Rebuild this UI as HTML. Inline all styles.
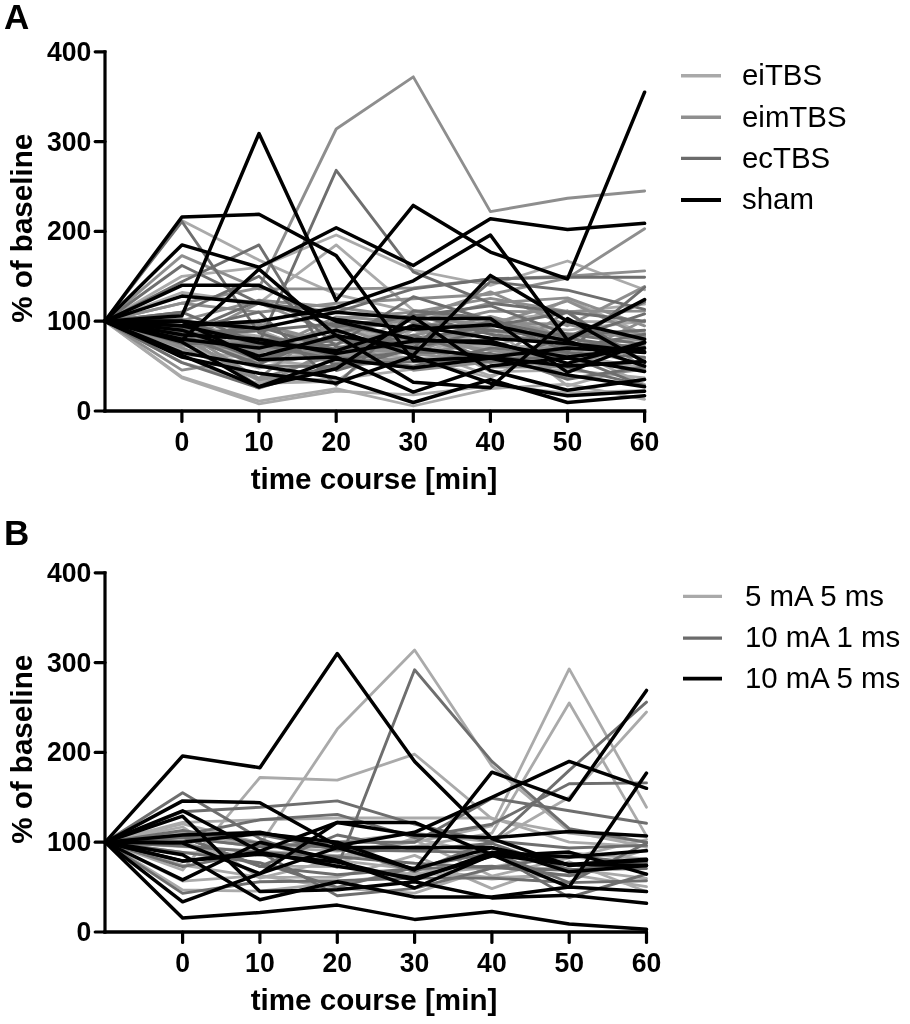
<!DOCTYPE html>
<html><head><meta charset="utf-8"><style>
html,body{margin:0;padding:0;background:#fff;}
svg{display:block;will-change:transform;}
text{font-family:"Liberation Sans", sans-serif;}
.tk{font-size:28px;font-weight:bold;}
.ax{font-size:29.6px;font-weight:bold;}
.pl{font-size:35px;font-weight:bold;}
.lg{font-size:29.4px;}
</style></head><body>
<svg width="910" height="1024" viewBox="0 0 910 1024">
<polyline points="104.8,321.2 181.9,318.6 259.0,357.6 336.2,324.4 413.3,342.8 490.4,339.3 567.5,299.1 644.6,334.6" fill="none" stroke="#aaaaaa" stroke-width="2.8" stroke-linejoin="round" stroke-linecap="round"/>
<polyline points="104.8,321.2 181.9,331.7 259.0,330.8 336.2,358.4 413.3,348.1 490.4,375.8 567.5,348.3 644.6,384.5" fill="none" stroke="#aaaaaa" stroke-width="2.8" stroke-linejoin="round" stroke-linecap="round"/>
<polyline points="104.8,321.2 181.9,362.5 259.0,383.4 336.2,381.3 413.3,329.5 490.4,371.7 567.5,370.1 644.6,377.9" fill="none" stroke="#aaaaaa" stroke-width="2.8" stroke-linejoin="round" stroke-linecap="round"/>
<polyline points="104.8,321.2 181.9,318.9 259.0,345.2 336.2,352.5 413.3,350.4 490.4,346.2 567.5,347.6 644.6,363.9" fill="none" stroke="#aaaaaa" stroke-width="2.8" stroke-linejoin="round" stroke-linecap="round"/>
<polyline points="104.8,321.2 181.9,333.9 259.0,353.0 336.2,327.6 413.3,344.0 490.4,344.8 567.5,351.2 644.6,337.6" fill="none" stroke="#aaaaaa" stroke-width="2.8" stroke-linejoin="round" stroke-linecap="round"/>
<polyline points="104.8,321.2 181.9,349.7 259.0,359.8 336.2,367.4 413.3,359.0 490.4,377.5 567.5,341.9 644.6,349.9" fill="none" stroke="#aaaaaa" stroke-width="2.8" stroke-linejoin="round" stroke-linecap="round"/>
<polyline points="104.8,321.2 181.9,328.4 259.0,341.9 336.2,358.1 413.3,335.0 490.4,320.2 567.5,344.0 644.6,351.9" fill="none" stroke="#aaaaaa" stroke-width="2.8" stroke-linejoin="round" stroke-linecap="round"/>
<polyline points="104.8,321.2 181.9,322.5 259.0,329.8 336.2,361.6 413.3,328.2 490.4,347.6 567.5,321.5 644.6,322.1" fill="none" stroke="#aaaaaa" stroke-width="2.8" stroke-linejoin="round" stroke-linecap="round"/>
<polyline points="104.8,321.2 181.9,356.1 259.0,354.3 336.2,361.3 413.3,344.2 490.4,319.2 567.5,337.1 644.6,332.5" fill="none" stroke="#aaaaaa" stroke-width="2.8" stroke-linejoin="round" stroke-linecap="round"/>
<polyline points="104.8,321.2 181.9,337.2 259.0,381.0 336.2,379.2 413.3,369.2 490.4,326.5 567.5,385.8 644.6,364.7" fill="none" stroke="#aaaaaa" stroke-width="2.8" stroke-linejoin="round" stroke-linecap="round"/>
<polyline points="104.8,321.2 181.9,336.4 259.0,355.5 336.2,356.7 413.3,344.2 490.4,346.7 567.5,346.8 644.6,348.9" fill="none" stroke="#aaaaaa" stroke-width="2.8" stroke-linejoin="round" stroke-linecap="round"/>
<polyline points="104.8,321.2 181.9,344.9 259.0,342.8 336.2,356.8 413.3,359.5 490.4,356.0 567.5,354.5 644.6,367.9" fill="none" stroke="#aaaaaa" stroke-width="2.8" stroke-linejoin="round" stroke-linecap="round"/>
<polyline points="104.8,321.2 181.9,344.6 259.0,368.1 336.2,349.3 413.3,358.5 490.4,354.8 567.5,355.4 644.6,370.6" fill="none" stroke="#aaaaaa" stroke-width="2.8" stroke-linejoin="round" stroke-linecap="round"/>
<polyline points="104.8,321.2 181.9,325.0 259.0,336.2 336.2,349.7 413.3,316.3 490.4,351.0 567.5,352.4 644.6,337.2" fill="none" stroke="#aaaaaa" stroke-width="2.8" stroke-linejoin="round" stroke-linecap="round"/>
<polyline points="104.8,321.2 181.9,331.6 259.0,362.8 336.2,323.3 413.3,355.6 490.4,329.5 567.5,349.5 644.6,343.6" fill="none" stroke="#aaaaaa" stroke-width="2.8" stroke-linejoin="round" stroke-linecap="round"/>
<polyline points="104.8,321.2 181.9,220.6 259.0,260.1 336.2,294.3 413.3,312.2 490.4,321.2 567.5,330.2 644.6,321.2" fill="none" stroke="#aaaaaa" stroke-width="2.8" stroke-linejoin="round" stroke-linecap="round"/>
<polyline points="104.8,321.2 181.9,276.3 259.0,267.3 336.2,235.0 413.3,270.0 490.4,285.3 567.5,261.0 644.6,289.8" fill="none" stroke="#aaaaaa" stroke-width="2.8" stroke-linejoin="round" stroke-linecap="round"/>
<polyline points="104.8,321.2 181.9,292.5 259.0,303.2 336.2,244.9 413.3,310.4 490.4,321.2 567.5,312.2 644.6,304.1" fill="none" stroke="#aaaaaa" stroke-width="2.8" stroke-linejoin="round" stroke-linecap="round"/>
<polyline points="104.8,321.2 181.9,376.9 259.0,401.1 336.2,388.6 413.3,406.0 490.4,388.6 567.5,384.1 644.6,399.3" fill="none" stroke="#aaaaaa" stroke-width="2.8" stroke-linejoin="round" stroke-linecap="round"/>
<polyline points="104.8,321.2 181.9,377.8 259.0,403.8 336.2,391.2 413.3,394.8 490.4,385.9 567.5,393.0 644.6,390.3" fill="none" stroke="#aaaaaa" stroke-width="2.8" stroke-linejoin="round" stroke-linecap="round"/>
<polyline points="104.8,321.2 181.9,325.8 259.0,323.9 336.2,343.8 413.3,328.4 490.4,355.1 567.5,345.1 644.6,348.6" fill="none" stroke="#8e8e8e" stroke-width="2.9" stroke-linejoin="round" stroke-linecap="round"/>
<polyline points="104.8,321.2 181.9,333.3 259.0,386.6 336.2,347.3 413.3,353.4 490.4,362.3 567.5,349.1 644.6,350.0" fill="none" stroke="#8e8e8e" stroke-width="2.9" stroke-linejoin="round" stroke-linecap="round"/>
<polyline points="104.8,321.2 181.9,342.3 259.0,302.9 336.2,333.9 413.3,318.1 490.4,324.5 567.5,300.9 644.6,337.1" fill="none" stroke="#8e8e8e" stroke-width="2.9" stroke-linejoin="round" stroke-linecap="round"/>
<polyline points="104.8,321.2 181.9,338.0 259.0,378.3 336.2,318.3 413.3,312.1 490.4,298.4 567.5,311.4 644.6,311.1" fill="none" stroke="#8e8e8e" stroke-width="2.9" stroke-linejoin="round" stroke-linecap="round"/>
<polyline points="104.8,321.2 181.9,329.2 259.0,353.4 336.2,316.9 413.3,321.8 490.4,303.1 567.5,297.9 644.6,325.8" fill="none" stroke="#8e8e8e" stroke-width="2.9" stroke-linejoin="round" stroke-linecap="round"/>
<polyline points="104.8,321.2 181.9,370.1 259.0,357.8 336.2,338.6 413.3,370.2 490.4,361.7 567.5,365.2 644.6,343.4" fill="none" stroke="#8e8e8e" stroke-width="2.9" stroke-linejoin="round" stroke-linecap="round"/>
<polyline points="104.8,321.2 181.9,327.8 259.0,338.6 336.2,363.9 413.3,337.6 490.4,350.6 567.5,357.7 644.6,320.2" fill="none" stroke="#8e8e8e" stroke-width="2.9" stroke-linejoin="round" stroke-linecap="round"/>
<polyline points="104.8,321.2 181.9,340.7 259.0,350.1 336.2,325.2 413.3,353.4 490.4,322.8 567.5,324.3 644.6,341.5" fill="none" stroke="#8e8e8e" stroke-width="2.9" stroke-linejoin="round" stroke-linecap="round"/>
<polyline points="104.8,321.2 181.9,344.8 259.0,349.8 336.2,356.6 413.3,324.8 490.4,362.7 567.5,310.8 644.6,369.4" fill="none" stroke="#8e8e8e" stroke-width="2.9" stroke-linejoin="round" stroke-linecap="round"/>
<polyline points="104.8,321.2 181.9,331.1 259.0,378.9 336.2,354.7 413.3,328.6 490.4,311.1 567.5,312.2 644.6,362.3" fill="none" stroke="#8e8e8e" stroke-width="2.9" stroke-linejoin="round" stroke-linecap="round"/>
<polyline points="104.8,321.2 181.9,320.6 259.0,300.2 336.2,307.2 413.3,317.7 490.4,291.9 567.5,325.8 644.6,286.6" fill="none" stroke="#8e8e8e" stroke-width="2.9" stroke-linejoin="round" stroke-linecap="round"/>
<polyline points="104.8,321.2 181.9,320.0 259.0,350.3 336.2,353.5 413.3,335.7 490.4,316.4 567.5,336.9 644.6,358.7" fill="none" stroke="#8e8e8e" stroke-width="2.9" stroke-linejoin="round" stroke-linecap="round"/>
<polyline points="104.8,321.2 181.9,342.8 259.0,341.1 336.2,358.4 413.3,339.5 490.4,331.4 567.5,333.8 644.6,335.6" fill="none" stroke="#8e8e8e" stroke-width="2.9" stroke-linejoin="round" stroke-linecap="round"/>
<polyline points="104.8,321.2 181.9,344.9 259.0,320.0 336.2,354.0 413.3,346.2 490.4,367.0 567.5,367.0 644.6,360.6" fill="none" stroke="#8e8e8e" stroke-width="2.9" stroke-linejoin="round" stroke-linecap="round"/>
<polyline points="104.8,321.2 181.9,347.6 259.0,379.8 336.2,367.9 413.3,356.3 490.4,340.2 567.5,378.1 644.6,369.3" fill="none" stroke="#8e8e8e" stroke-width="2.9" stroke-linejoin="round" stroke-linecap="round"/>
<polyline points="104.8,321.2 181.9,303.2 259.0,288.0 336.2,129.0 413.3,76.9 490.4,211.6 567.5,198.2 644.6,191.0" fill="none" stroke="#8e8e8e" stroke-width="2.9" stroke-linejoin="round" stroke-linecap="round"/>
<polyline points="104.8,321.2 181.9,303.2 259.0,312.2 336.2,303.2 413.3,298.8 490.4,294.3 567.5,278.1 644.6,228.7" fill="none" stroke="#8e8e8e" stroke-width="2.9" stroke-linejoin="round" stroke-linecap="round"/>
<polyline points="104.8,321.2 181.9,255.6 259.0,288.9 336.2,288.9 413.3,288.0 490.4,279.0 567.5,276.3 644.6,270.9" fill="none" stroke="#8e8e8e" stroke-width="2.9" stroke-linejoin="round" stroke-linecap="round"/>
<polyline points="104.8,321.2 181.9,362.6 259.0,388.0 336.2,364.1 413.3,361.9 490.4,361.2 567.5,355.4 644.6,386.1" fill="none" stroke="#6e6e6e" stroke-width="2.9" stroke-linejoin="round" stroke-linecap="round"/>
<polyline points="104.8,321.2 181.9,327.4 259.0,339.4 336.2,339.7 413.3,343.1 490.4,321.2 567.5,337.4 644.6,301.9" fill="none" stroke="#6e6e6e" stroke-width="2.9" stroke-linejoin="round" stroke-linecap="round"/>
<polyline points="104.8,321.2 181.9,330.4 259.0,312.0 336.2,385.2 413.3,310.7 490.4,318.3 567.5,347.9 644.6,334.2" fill="none" stroke="#6e6e6e" stroke-width="2.9" stroke-linejoin="round" stroke-linecap="round"/>
<polyline points="104.8,321.2 181.9,319.8 259.0,346.2 336.2,344.9 413.3,296.7 490.4,320.5 567.5,351.6 644.6,287.4" fill="none" stroke="#6e6e6e" stroke-width="2.9" stroke-linejoin="round" stroke-linecap="round"/>
<polyline points="104.8,321.2 181.9,335.5 259.0,364.2 336.2,333.1 413.3,314.7 490.4,334.3 567.5,344.1 644.6,346.6" fill="none" stroke="#6e6e6e" stroke-width="2.9" stroke-linejoin="round" stroke-linecap="round"/>
<polyline points="104.8,321.2 181.9,330.3 259.0,359.8 336.2,338.7 413.3,351.9 490.4,353.4 567.5,379.4 644.6,366.8" fill="none" stroke="#6e6e6e" stroke-width="2.9" stroke-linejoin="round" stroke-linecap="round"/>
<polyline points="104.8,321.2 181.9,335.0 259.0,330.8 336.2,323.5 413.3,339.6 490.4,326.0 567.5,312.5 644.6,362.8" fill="none" stroke="#6e6e6e" stroke-width="2.9" stroke-linejoin="round" stroke-linecap="round"/>
<polyline points="104.8,321.2 181.9,312.3 259.0,276.3 336.2,346.6 413.3,347.8 490.4,281.7 567.5,290.2 644.6,309.3" fill="none" stroke="#6e6e6e" stroke-width="2.9" stroke-linejoin="round" stroke-linecap="round"/>
<polyline points="104.8,321.2 181.9,333.5 259.0,300.6 336.2,326.7 413.3,316.0 490.4,305.7 567.5,334.3 644.6,344.1" fill="none" stroke="#6e6e6e" stroke-width="2.9" stroke-linejoin="round" stroke-linecap="round"/>
<polyline points="104.8,321.2 181.9,334.6 259.0,365.8 336.2,366.9 413.3,323.7 490.4,330.0 567.5,339.3 644.6,313.9" fill="none" stroke="#6e6e6e" stroke-width="2.9" stroke-linejoin="round" stroke-linecap="round"/>
<polyline points="104.8,321.2 181.9,336.0 259.0,326.6 336.2,350.0 413.3,335.2 490.4,358.7 567.5,338.3 644.6,349.0" fill="none" stroke="#6e6e6e" stroke-width="2.9" stroke-linejoin="round" stroke-linecap="round"/>
<polyline points="104.8,321.2 181.9,343.3 259.0,344.5 336.2,359.5 413.3,351.6 490.4,354.5 567.5,367.2 644.6,385.6" fill="none" stroke="#6e6e6e" stroke-width="2.9" stroke-linejoin="round" stroke-linecap="round"/>
<polyline points="104.8,321.2 181.9,312.2 259.0,343.6 336.2,170.3 413.3,271.8 490.4,303.2 567.5,312.2 644.6,321.2" fill="none" stroke="#6e6e6e" stroke-width="2.9" stroke-linejoin="round" stroke-linecap="round"/>
<polyline points="104.8,321.2 181.9,221.5 259.0,332.9 336.2,357.1 413.3,366.1 490.4,348.1 567.5,352.6 644.6,357.1" fill="none" stroke="#6e6e6e" stroke-width="2.9" stroke-linejoin="round" stroke-linecap="round"/>
<polyline points="104.8,321.2 181.9,281.7 259.0,244.9 336.2,370.6 413.3,348.1 490.4,330.2 567.5,334.7 644.6,330.2" fill="none" stroke="#6e6e6e" stroke-width="2.9" stroke-linejoin="round" stroke-linecap="round"/>
<polyline points="104.8,321.2 181.9,265.5 259.0,303.2 336.2,312.2 413.3,288.9 490.4,279.0 567.5,277.2 644.6,277.2" fill="none" stroke="#6e6e6e" stroke-width="2.9" stroke-linejoin="round" stroke-linecap="round"/>
<polyline points="104.8,321.2 181.9,296.1 259.0,303.2 336.2,319.4 413.3,329.3 490.4,324.8 567.5,341.0 644.6,366.1" fill="none" stroke="#000000" stroke-width="3.5" stroke-linejoin="round" stroke-linecap="round"/>
<polyline points="104.8,321.2 181.9,321.2 259.0,328.4 336.2,312.2 413.3,318.5 490.4,318.5 567.5,372.4 644.6,342.3" fill="none" stroke="#000000" stroke-width="3.5" stroke-linejoin="round" stroke-linecap="round"/>
<polyline points="104.8,321.2 181.9,325.7 259.0,342.8 336.2,350.8 413.3,325.7 490.4,338.3 567.5,343.6 644.6,351.7" fill="none" stroke="#000000" stroke-width="3.5" stroke-linejoin="round" stroke-linecap="round"/>
<polyline points="104.8,321.2 181.9,334.7 259.0,339.2 336.2,353.5 413.3,341.0 490.4,341.0 567.5,363.4 644.6,342.3" fill="none" stroke="#000000" stroke-width="3.5" stroke-linejoin="round" stroke-linecap="round"/>
<polyline points="104.8,321.2 181.9,330.2 259.0,356.2 336.2,335.6 413.3,382.3 490.4,387.7 567.5,318.5 644.6,362.1" fill="none" stroke="#000000" stroke-width="3.5" stroke-linejoin="round" stroke-linecap="round"/>
<polyline points="104.8,321.2 181.9,321.2 259.0,359.8 336.2,357.1 413.3,392.1 490.4,366.1 567.5,358.0 644.6,371.5" fill="none" stroke="#000000" stroke-width="3.5" stroke-linejoin="round" stroke-linecap="round"/>
<polyline points="104.8,321.2 181.9,341.9 259.0,386.8 336.2,358.9 413.3,367.9 490.4,358.0 567.5,375.1 644.6,386.8" fill="none" stroke="#000000" stroke-width="3.5" stroke-linejoin="round" stroke-linecap="round"/>
<polyline points="104.8,321.2 181.9,355.3 259.0,386.8 336.2,368.8 413.3,316.7 490.4,370.6 567.5,390.3 644.6,379.6" fill="none" stroke="#000000" stroke-width="3.5" stroke-linejoin="round" stroke-linecap="round"/>
<polyline points="104.8,321.2 181.9,357.1 259.0,373.3 336.2,383.2 413.3,356.2 490.4,383.2 567.5,395.7 644.6,391.2" fill="none" stroke="#000000" stroke-width="3.5" stroke-linejoin="round" stroke-linecap="round"/>
<polyline points="104.8,321.2 181.9,352.6 259.0,366.1 336.2,377.8 413.3,402.5 490.4,379.6 567.5,402.5 644.6,395.7" fill="none" stroke="#000000" stroke-width="3.5" stroke-linejoin="round" stroke-linecap="round"/>
<polyline points="104.8,321.2 181.9,315.8 259.0,133.5 336.2,300.5 413.3,205.4 490.4,252.1 567.5,279.0 644.6,92.2" fill="none" stroke="#000000" stroke-width="3.5" stroke-linejoin="round" stroke-linecap="round"/>
<polyline points="104.8,321.2 181.9,217.0 259.0,214.3 336.2,255.6 413.3,360.7 490.4,357.1 567.5,366.1 644.6,361.6" fill="none" stroke="#000000" stroke-width="3.5" stroke-linejoin="round" stroke-linecap="round"/>
<polyline points="104.8,321.2 181.9,244.9 259.0,267.3 336.2,227.8 413.3,265.5 490.4,218.8 567.5,229.6 644.6,223.3" fill="none" stroke="#000000" stroke-width="3.5" stroke-linejoin="round" stroke-linecap="round"/>
<polyline points="104.8,321.2 181.9,325.7 259.0,321.2 336.2,307.7 413.3,280.8 490.4,235.0 567.5,340.1 644.6,299.6" fill="none" stroke="#000000" stroke-width="3.5" stroke-linejoin="round" stroke-linecap="round"/>
<polyline points="104.8,321.2 181.9,340.1 259.0,269.1 336.2,335.6 413.3,348.1 490.4,357.1 567.5,348.1 644.6,352.6" fill="none" stroke="#000000" stroke-width="3.5" stroke-linejoin="round" stroke-linecap="round"/>
<polyline points="104.8,321.2 181.9,285.3 259.0,285.3 336.2,321.2 413.3,339.2 490.4,343.6 567.5,357.1 644.6,348.1" fill="none" stroke="#000000" stroke-width="3.5" stroke-linejoin="round" stroke-linecap="round"/>
<polyline points="104.8,321.2 181.9,339.2 259.0,348.1 336.2,330.2 413.3,355.3 490.4,275.4 567.5,321.2 644.6,339.2" fill="none" stroke="#000000" stroke-width="3.5" stroke-linejoin="round" stroke-linecap="round"/>
<polyline points="105.3,842.2 182.6,841.6 259.9,866.2 337.3,866.7 414.6,874.7 491.9,867.2 569.2,852.8 646.5,859.0" fill="none" stroke="#aaaaaa" stroke-width="2.8" stroke-linejoin="round" stroke-linecap="round"/>
<polyline points="105.3,842.2 182.6,890.0 259.9,891.2 337.3,882.6 414.6,872.6 491.9,879.0 569.2,874.3 646.5,886.7" fill="none" stroke="#aaaaaa" stroke-width="2.8" stroke-linejoin="round" stroke-linecap="round"/>
<polyline points="105.3,842.2 182.6,852.5 259.9,854.8 337.3,860.3 414.6,869.3 491.9,877.7 569.2,874.7 646.5,849.5" fill="none" stroke="#aaaaaa" stroke-width="2.8" stroke-linejoin="round" stroke-linecap="round"/>
<polyline points="105.3,842.2 182.6,823.9 259.9,842.9 337.3,863.0 414.6,838.2 491.9,855.9 569.2,856.5 646.5,864.3" fill="none" stroke="#aaaaaa" stroke-width="2.8" stroke-linejoin="round" stroke-linecap="round"/>
<polyline points="105.3,842.2 182.6,881.1 259.9,875.5 337.3,888.1 414.6,893.1 491.9,867.7 569.2,868.8 646.5,878.3" fill="none" stroke="#aaaaaa" stroke-width="2.8" stroke-linejoin="round" stroke-linecap="round"/>
<polyline points="105.3,842.2 182.6,827.0 259.9,878.2 337.3,859.1 414.6,840.0 491.9,876.1 569.2,857.8 646.5,839.5" fill="none" stroke="#aaaaaa" stroke-width="2.8" stroke-linejoin="round" stroke-linecap="round"/>
<polyline points="105.3,842.2 182.6,865.2 259.9,877.2 337.3,877.4 414.6,855.4 491.9,888.6 569.2,861.7 646.5,891.7" fill="none" stroke="#aaaaaa" stroke-width="2.8" stroke-linejoin="round" stroke-linecap="round"/>
<polyline points="105.3,842.2 182.6,870.0 259.9,777.5 337.3,780.2 414.6,754.2 491.9,818.9 569.2,833.2 646.5,842.2" fill="none" stroke="#aaaaaa" stroke-width="2.8" stroke-linejoin="round" stroke-linecap="round"/>
<polyline points="105.3,842.2 182.6,833.2 259.9,844.9 337.3,729.1 414.6,650.0 491.9,765.9 569.2,831.4 646.5,846.7" fill="none" stroke="#aaaaaa" stroke-width="2.8" stroke-linejoin="round" stroke-linecap="round"/>
<polyline points="105.3,842.2 182.6,837.7 259.9,846.7 337.3,851.2 414.6,842.2 491.9,826.0 569.2,668.9 646.5,807.2" fill="none" stroke="#aaaaaa" stroke-width="2.8" stroke-linejoin="round" stroke-linecap="round"/>
<polyline points="105.3,842.2 182.6,846.7 259.9,851.2 337.3,855.7 414.6,846.7 491.9,833.2 569.2,703.0 646.5,835.9" fill="none" stroke="#aaaaaa" stroke-width="2.8" stroke-linejoin="round" stroke-linecap="round"/>
<polyline points="105.3,842.2 182.6,842.2 259.9,833.2 337.3,842.2 414.6,833.2 491.9,842.2 569.2,797.3 646.5,712.0" fill="none" stroke="#aaaaaa" stroke-width="2.8" stroke-linejoin="round" stroke-linecap="round"/>
<polyline points="105.3,842.2 182.6,822.4 259.9,819.8 337.3,818.0 414.6,818.0 491.9,818.0 569.2,842.2 646.5,846.7" fill="none" stroke="#aaaaaa" stroke-width="2.8" stroke-linejoin="round" stroke-linecap="round"/>
<polyline points="105.3,842.2 182.6,830.5 259.9,843.3 337.3,847.7 414.6,871.6 491.9,840.8 569.2,848.0 646.5,845.4" fill="none" stroke="#6e6e6e" stroke-width="2.9" stroke-linejoin="round" stroke-linecap="round"/>
<polyline points="105.3,842.2 182.6,836.8 259.9,866.3 337.3,835.0 414.6,850.0 491.9,843.5 569.2,869.7 646.5,868.5" fill="none" stroke="#6e6e6e" stroke-width="2.9" stroke-linejoin="round" stroke-linecap="round"/>
<polyline points="105.3,842.2 182.6,852.4 259.9,862.7 337.3,887.3 414.6,867.4 491.9,852.9 569.2,897.5 646.5,874.0" fill="none" stroke="#6e6e6e" stroke-width="2.9" stroke-linejoin="round" stroke-linecap="round"/>
<polyline points="105.3,842.2 182.6,866.6 259.9,852.1 337.3,895.8 414.6,888.4 491.9,868.2 569.2,855.4 646.5,863.9" fill="none" stroke="#6e6e6e" stroke-width="2.9" stroke-linejoin="round" stroke-linecap="round"/>
<polyline points="105.3,842.2 182.6,836.9 259.9,834.6 337.3,849.8 414.6,851.1 491.9,852.5 569.2,882.5 646.5,843.0" fill="none" stroke="#6e6e6e" stroke-width="2.9" stroke-linejoin="round" stroke-linecap="round"/>
<polyline points="105.3,842.2 182.6,836.8 259.9,866.4 337.3,874.8 414.6,868.7 491.9,866.3 569.2,875.8 646.5,859.9" fill="none" stroke="#6e6e6e" stroke-width="2.9" stroke-linejoin="round" stroke-linecap="round"/>
<polyline points="105.3,842.2 182.6,846.0 259.9,852.4 337.3,856.7 414.6,863.3 491.9,867.7 569.2,870.3 646.5,862.1" fill="none" stroke="#6e6e6e" stroke-width="2.9" stroke-linejoin="round" stroke-linecap="round"/>
<polyline points="105.3,842.2 182.6,792.8 259.9,838.6 337.3,867.3 414.6,669.8 491.9,761.4 569.2,828.7 646.5,842.2" fill="none" stroke="#6e6e6e" stroke-width="2.9" stroke-linejoin="round" stroke-linecap="round"/>
<polyline points="105.3,842.2 182.6,811.7 259.9,807.2 337.3,800.9 414.6,824.2 491.9,842.2 569.2,770.4 646.5,702.1" fill="none" stroke="#6e6e6e" stroke-width="2.9" stroke-linejoin="round" stroke-linecap="round"/>
<polyline points="105.3,842.2 182.6,835.0 259.9,819.8 337.3,814.4 414.6,837.7 491.9,824.2 569.2,783.8 646.5,782.9" fill="none" stroke="#6e6e6e" stroke-width="2.9" stroke-linejoin="round" stroke-linecap="round"/>
<polyline points="105.3,842.2 182.6,893.4 259.9,881.7 337.3,880.8 414.6,878.1 491.9,878.1 569.2,882.6 646.5,880.8" fill="none" stroke="#6e6e6e" stroke-width="2.9" stroke-linejoin="round" stroke-linecap="round"/>
<polyline points="105.3,842.2 182.6,837.7 259.9,846.7 337.3,842.2 414.6,842.2 491.9,798.2 569.2,810.8 646.5,823.3" fill="none" stroke="#6e6e6e" stroke-width="2.9" stroke-linejoin="round" stroke-linecap="round"/>
<polyline points="105.3,842.2 182.6,860.9 259.9,854.2 337.3,862.0 414.6,880.1 491.9,852.3 569.2,857.0 646.5,850.8" fill="none" stroke="#000000" stroke-width="3.5" stroke-linejoin="round" stroke-linecap="round"/>
<polyline points="105.3,842.2 182.6,861.1 259.9,852.3 337.3,866.2 414.6,878.0 491.9,856.1 569.2,852.1 646.5,874.1" fill="none" stroke="#000000" stroke-width="3.5" stroke-linejoin="round" stroke-linecap="round"/>
<polyline points="105.3,842.2 182.6,756.0 259.9,767.7 337.3,653.6 414.6,761.4 491.9,838.6 569.2,865.5 646.5,860.2" fill="none" stroke="#000000" stroke-width="3.5" stroke-linejoin="round" stroke-linecap="round"/>
<polyline points="105.3,842.2 182.6,918.0 259.9,912.5 337.3,905.1 414.6,919.4 491.9,911.6 569.2,923.9 646.5,929.3" fill="none" stroke="#000000" stroke-width="3.5" stroke-linejoin="round" stroke-linecap="round"/>
<polyline points="105.3,842.2 182.6,842.2 259.9,833.2 337.3,842.2 414.6,870.0 491.9,772.2 569.2,800.0 646.5,690.4" fill="none" stroke="#000000" stroke-width="3.5" stroke-linejoin="round" stroke-linecap="round"/>
<polyline points="105.3,842.2 182.6,800.9 259.9,802.7 337.3,845.8 414.6,832.3 491.9,797.3 569.2,761.4 646.5,788.3" fill="none" stroke="#000000" stroke-width="3.5" stroke-linejoin="round" stroke-linecap="round"/>
<polyline points="105.3,842.2 182.6,879.9 259.9,842.2 337.3,860.2 414.6,888.0 491.9,854.8 569.2,887.1 646.5,773.1" fill="none" stroke="#000000" stroke-width="3.5" stroke-linejoin="round" stroke-linecap="round"/>
<polyline points="105.3,842.2 182.6,810.8 259.9,851.2 337.3,822.4 414.6,835.0 491.9,837.7 569.2,831.4 646.5,835.9" fill="none" stroke="#000000" stroke-width="3.5" stroke-linejoin="round" stroke-linecap="round"/>
<polyline points="105.3,842.2 182.6,816.2 259.9,891.6 337.3,889.8 414.6,881.7 491.9,897.9 569.2,895.2 646.5,903.3" fill="none" stroke="#000000" stroke-width="3.5" stroke-linejoin="round" stroke-linecap="round"/>
<polyline points="105.3,842.2 182.6,835.0 259.9,832.3 337.3,847.6 414.6,847.6 491.9,847.6 569.2,871.8 646.5,865.5" fill="none" stroke="#000000" stroke-width="3.5" stroke-linejoin="round" stroke-linecap="round"/>
<polyline points="105.3,842.2 182.6,843.1 259.9,873.6 337.3,822.4 414.6,822.4 491.9,854.8 569.2,864.6 646.5,859.3" fill="none" stroke="#000000" stroke-width="3.5" stroke-linejoin="round" stroke-linecap="round"/>
<polyline points="105.3,842.2 182.6,854.8 259.9,899.7 337.3,881.7 414.6,897.0 491.9,897.0 569.2,887.1 646.5,891.6" fill="none" stroke="#000000" stroke-width="3.5" stroke-linejoin="round" stroke-linecap="round"/>
<polyline points="105.3,842.2 182.6,901.8 259.9,873.6 337.3,847.6 414.6,869.1 491.9,847.6 569.2,864.6 646.5,865.5" fill="none" stroke="#000000" stroke-width="3.5" stroke-linejoin="round" stroke-linecap="round"/>
<line x1="105" y1="50.2" x2="105" y2="412.6" stroke="#000" stroke-width="3.2"/>
<line x1="95.2" y1="411.0" x2="105" y2="411.0" stroke="#000" stroke-width="3.2" stroke-linecap="round"/>
<text transform="translate(91.4,419.9) scale(0.95,1)" text-anchor="end" class="tk">0</text>
<line x1="95.2" y1="321.2" x2="105" y2="321.2" stroke="#000" stroke-width="3.2" stroke-linecap="round"/>
<text transform="translate(91.4,330.1) scale(0.95,1)" text-anchor="end" class="tk">100</text>
<line x1="95.2" y1="231.4" x2="105" y2="231.4" stroke="#000" stroke-width="3.2" stroke-linecap="round"/>
<text transform="translate(91.4,240.3) scale(0.95,1)" text-anchor="end" class="tk">200</text>
<line x1="95.2" y1="141.6" x2="105" y2="141.6" stroke="#000" stroke-width="3.2" stroke-linecap="round"/>
<text transform="translate(91.4,150.5) scale(0.95,1)" text-anchor="end" class="tk">300</text>
<line x1="95.2" y1="51.8" x2="105" y2="51.8" stroke="#000" stroke-width="3.2" stroke-linecap="round"/>
<text transform="translate(91.4,60.7) scale(0.95,1)" text-anchor="end" class="tk">400</text>
<line x1="103.4" y1="411" x2="646.3" y2="411" stroke="#000" stroke-width="3.4"/>
<line x1="181.9" y1="411" x2="181.9" y2="421.5" stroke="#000" stroke-width="3.2" stroke-linecap="round"/>
<text transform="translate(181.9,451.4) scale(0.95,1)" text-anchor="middle" class="tk">0</text>
<line x1="259.0" y1="411" x2="259.0" y2="421.5" stroke="#000" stroke-width="3.2" stroke-linecap="round"/>
<text transform="translate(259.0,451.4) scale(0.95,1)" text-anchor="middle" class="tk">10</text>
<line x1="336.2" y1="411" x2="336.2" y2="421.5" stroke="#000" stroke-width="3.2" stroke-linecap="round"/>
<text transform="translate(336.2,451.4) scale(0.95,1)" text-anchor="middle" class="tk">20</text>
<line x1="413.3" y1="411" x2="413.3" y2="421.5" stroke="#000" stroke-width="3.2" stroke-linecap="round"/>
<text transform="translate(413.3,451.4) scale(0.95,1)" text-anchor="middle" class="tk">30</text>
<line x1="490.4" y1="411" x2="490.4" y2="421.5" stroke="#000" stroke-width="3.2" stroke-linecap="round"/>
<text transform="translate(490.4,451.4) scale(0.95,1)" text-anchor="middle" class="tk">40</text>
<line x1="567.5" y1="411" x2="567.5" y2="421.5" stroke="#000" stroke-width="3.2" stroke-linecap="round"/>
<text transform="translate(567.5,451.4) scale(0.95,1)" text-anchor="middle" class="tk">50</text>
<line x1="644.6" y1="411" x2="644.6" y2="421.5" stroke="#000" stroke-width="3.2" stroke-linecap="round"/>
<text transform="translate(644.6,451.4) scale(0.95,1)" text-anchor="middle" class="tk">60</text>
<text x="374" y="488.5" text-anchor="middle" class="ax">time course [min]</text>
<text transform="translate(31.6,228.3) rotate(-90)" text-anchor="middle" class="ax">% of baseline</text>
<text x="4" y="28.8" class="pl">A</text>
<line x1="105" y1="571.2" x2="105" y2="933.6" stroke="#000" stroke-width="3.2"/>
<line x1="95.2" y1="932.0" x2="105" y2="932.0" stroke="#000" stroke-width="3.2" stroke-linecap="round"/>
<text transform="translate(91.4,940.9) scale(0.95,1)" text-anchor="end" class="tk">0</text>
<line x1="95.2" y1="842.2" x2="105" y2="842.2" stroke="#000" stroke-width="3.2" stroke-linecap="round"/>
<text transform="translate(91.4,851.1) scale(0.95,1)" text-anchor="end" class="tk">100</text>
<line x1="95.2" y1="752.4" x2="105" y2="752.4" stroke="#000" stroke-width="3.2" stroke-linecap="round"/>
<text transform="translate(91.4,761.3) scale(0.95,1)" text-anchor="end" class="tk">200</text>
<line x1="95.2" y1="662.6" x2="105" y2="662.6" stroke="#000" stroke-width="3.2" stroke-linecap="round"/>
<text transform="translate(91.4,671.5) scale(0.95,1)" text-anchor="end" class="tk">300</text>
<line x1="95.2" y1="572.8" x2="105" y2="572.8" stroke="#000" stroke-width="3.2" stroke-linecap="round"/>
<text transform="translate(91.4,581.7) scale(0.95,1)" text-anchor="end" class="tk">400</text>
<line x1="103.4" y1="932" x2="648" y2="932" stroke="#000" stroke-width="3.4"/>
<line x1="182.6" y1="932" x2="182.6" y2="942.5" stroke="#000" stroke-width="3.2" stroke-linecap="round"/>
<text transform="translate(182.6,972.4) scale(0.95,1)" text-anchor="middle" class="tk">0</text>
<line x1="259.9" y1="932" x2="259.9" y2="942.5" stroke="#000" stroke-width="3.2" stroke-linecap="round"/>
<text transform="translate(259.9,972.4) scale(0.95,1)" text-anchor="middle" class="tk">10</text>
<line x1="337.3" y1="932" x2="337.3" y2="942.5" stroke="#000" stroke-width="3.2" stroke-linecap="round"/>
<text transform="translate(337.3,972.4) scale(0.95,1)" text-anchor="middle" class="tk">20</text>
<line x1="414.6" y1="932" x2="414.6" y2="942.5" stroke="#000" stroke-width="3.2" stroke-linecap="round"/>
<text transform="translate(414.6,972.4) scale(0.95,1)" text-anchor="middle" class="tk">30</text>
<line x1="491.9" y1="932" x2="491.9" y2="942.5" stroke="#000" stroke-width="3.2" stroke-linecap="round"/>
<text transform="translate(491.9,972.4) scale(0.95,1)" text-anchor="middle" class="tk">40</text>
<line x1="569.2" y1="932" x2="569.2" y2="942.5" stroke="#000" stroke-width="3.2" stroke-linecap="round"/>
<text transform="translate(569.2,972.4) scale(0.95,1)" text-anchor="middle" class="tk">50</text>
<line x1="646.5" y1="932" x2="646.5" y2="942.5" stroke="#000" stroke-width="3.2" stroke-linecap="round"/>
<text transform="translate(646.5,972.4) scale(0.95,1)" text-anchor="middle" class="tk">60</text>
<text x="374" y="1009.5" text-anchor="middle" class="ax">time course [min]</text>
<text transform="translate(31.6,749.3) rotate(-90)" text-anchor="middle" class="ax">% of baseline</text>
<text x="4" y="545.3" class="pl">B</text>
<line x1="681" y1="75.8" x2="721" y2="75.8" stroke="#a9a9a9" stroke-width="3.4"/>
<text x="742" y="85.1" class="lg">eiTBS</text>
<line x1="681" y1="117.3" x2="721" y2="117.3" stroke="#8f8f8f" stroke-width="3.4"/>
<text x="742" y="126.6" class="lg">eimTBS</text>
<line x1="681" y1="158.4" x2="721" y2="158.4" stroke="#6b6b6b" stroke-width="3.2"/>
<text x="742" y="167.7" class="lg">ecTBS</text>
<line x1="681" y1="200.0" x2="721" y2="200.0" stroke="#000" stroke-width="3.8"/>
<text x="742" y="209.3" class="lg">sham</text>
<line x1="683" y1="596.4" x2="722" y2="596.4" stroke="#a9a9a9" stroke-width="3.4"/>
<text x="745" y="605.7" class="lg">5 mA 5 ms</text>
<line x1="683" y1="638.1" x2="722" y2="638.1" stroke="#6b6b6b" stroke-width="3.2"/>
<text x="745" y="647.4" class="lg">10 mA 1 ms</text>
<line x1="683" y1="678.7" x2="722" y2="678.7" stroke="#000" stroke-width="3.8"/>
<text x="745" y="688.0" class="lg">10 mA 5 ms</text>
</svg>
</body></html>
